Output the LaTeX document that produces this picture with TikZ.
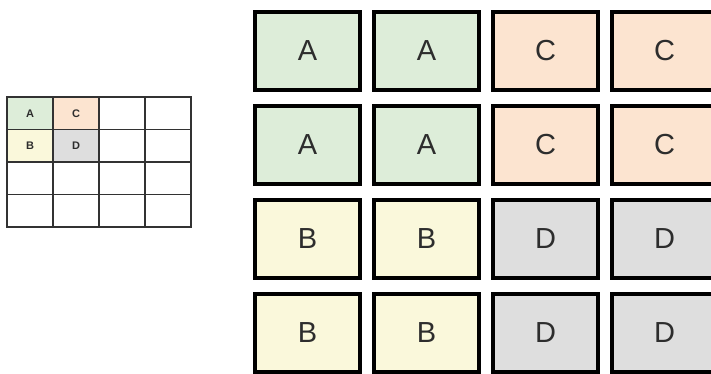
\documentclass[tikz,border=0pt]{standalone}
\usepackage{fontspec}
\setmainfont{Liberation Sans}
\definecolor{cellA}{RGB}{221,237,217}
\definecolor{cellB}{RGB}{250,248,219}
\definecolor{cellC}{RGB}{252,228,208}
\definecolor{cellD}{RGB}{222,222,222}
\definecolor{gridline}{RGB}{50,50,50}
\definecolor{letter}{RGB}{45,45,45}
\tikzset{
    bigcell/.style={draw=black, line width=4pt, minimum width=105pt, minimum height=78pt, inner sep=0pt, text=letter, font=\fontsize{29}{29}\selectfont},
    smallcell/.style={draw=gridline, line width=1.8pt, minimum width=46pt, minimum height=32.5pt, inner sep=0pt, text=letter, font=\fontsize{11}{11}\selectfont\bfseries},
}
\begin{document}
\begin{tikzpicture}[x=1pt, y=-1pt]
            \useasboundingbox (0, 0) rectangle (711, 374);
            \fill[white] (0, 0) rectangle (711, 374);
            \clip (0, 0) rectangle (711, 374);

            % small grid on the left
            \foreach \i in {0,...,3} {
                \foreach \j in {0,...,3} {
                    \node[smallcell] (s-\i-\j) at (30 + 46*\i, 113.25 + 32.5*\j) {};
                }
            }
            \node[smallcell, fill=cellA] (sA) at (s-0-0) {A};
            \node[smallcell, fill=cellC] (sC) at (s-1-0) {C};
            \node[smallcell, fill=cellB] (sB) at (s-0-1) {B};
            \node[smallcell, fill=cellD] (sD) at (s-1-1) {D};

            % big cells on the right
            \foreach \i/\j/\l/\c in {0/0/A/cellA, 1/0/A/cellA, 0/1/A/cellA, 1/1/A/cellA,
                                     2/0/C/cellC, 3/0/C/cellC, 2/1/C/cellC, 3/1/C/cellC,
                                     0/2/B/cellB, 1/2/B/cellB, 0/3/B/cellB, 1/3/B/cellB,
                                     2/2/D/cellD, 3/2/D/cellD, 2/3/D/cellD, 3/3/D/cellD} {
                \node[bigcell, fill=\c] (b-\i-\j) at (307.5 + 119*\i, 51 + 94*\j) {\l};
            }
        \end{tikzpicture}
\end{document}
